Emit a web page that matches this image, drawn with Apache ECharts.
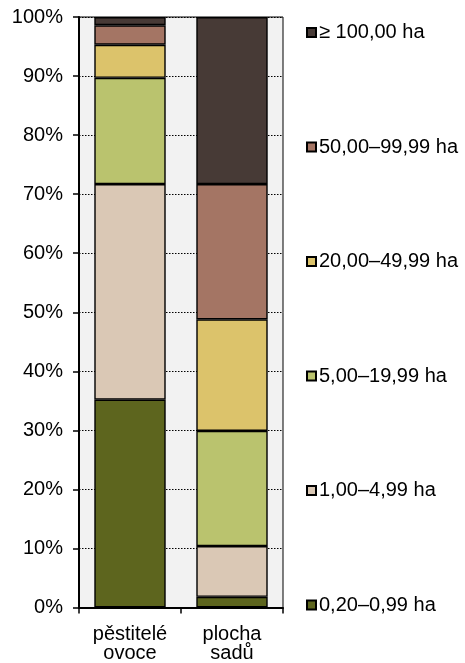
<!DOCTYPE html>
<html>
<head>
<meta charset="utf-8">
<script src="https://cdn.jsdelivr.net/npm/echarts@6/dist/echarts.min.js"></script>
<style>
html,body{margin:0;padding:0;background:#fff;}
#c{width:465px;height:663px;}
</style>
</head>
<body>
<div id="c"></div>
<script>
// Data
const categories = ['pěstitelé\novoce', 'plocha\nsadů'];
const sizeClasses = ['0,20–0,99 ha', '1,00–4,99 ha', '5,00–19,99 ha', '20,00–49,99 ha', '50,00–99,99 ha', '≥ 100,00 ha'];
const growersShare = [35.2, 36.5, 18.0, 5.6, 3.3, 1.4];   // pěstitelé ovoce (%)
const orchardShare = [1.8, 8.6, 19.5, 18.9, 22.9, 28.3];  // plocha sadů (%)
const yTicks = [0, 10, 20, 30, 40, 50, 60, 70, 80, 90, 100];

// Styles
const colors = ['#5d651e', '#dac8b5', '#bac36e', '#dcc36b', '#a47564', '#473a36'];
const FONT = "'Liberation Sans', Arial, sans-serif";
const legendCenters = [600, 485.5, 371, 256.5, 142, 27.5];

const chart = echarts.init(document.getElementById('c'), null, {renderer: 'canvas'});

const series = sizeClasses.map((name, i) => ({
  name: name,
  type: 'bar',
  stack: 'total',
  barWidth: '70%',
  data: [growersShare[i], orchardShare[i]],
  itemStyle: { color: colors[i], borderColor: '#000', borderWidth: 1.4 },
  emphasis: { disabled: true }
}));

const legends = sizeClasses.map((name, i) => ({
  data: [name],
  left: 301,
  top: legendCenters[i] - 11,
  orient: 'vertical',
  itemWidth: 9,
  itemHeight: 9,
  icon: 'rect',
  selectedMode: false,
  textStyle: { fontFamily: FONT, fontSize: 20, color: '#000', lineHeight: 22, padding: [0, 0, 0, -2] }
}));

chart.setOption({
  animation: false,
  backgroundColor: '#fff',
  grid: {
    left: 79, right: 182, top: 17, bottom: 54,
    show: true, backgroundColor: '#f2f2f2', borderColor: '#000', borderWidth: 1
  },
  legend: legends,
  xAxis: {
    type: 'category',
    data: categories,
    axisLine: { lineStyle: { color: '#000', width: 2 } },
    axisTick: { show: true, length: 6, lineStyle: { color: '#000', width: 1.5 } },
    axisLabel: { fontFamily: FONT, fontSize: 20, color: '#000', lineHeight: 19, margin: 17 }
  },
  yAxis: {
    type: 'value',
    min: yTicks[0],
    max: yTicks[yTicks.length - 1],
    interval: 10,
    axisLine: { show: true, lineStyle: { color: '#000', width: 2 } },
    axisTick: { show: true, length: 6, lineStyle: { color: '#000', width: 1.5 } },
    axisLabel: { fontFamily: FONT, fontSize: 20, color: '#000', margin: 16, formatter: '{value}%' },
    splitLine: { show: true, lineStyle: { color: '#000', width: 1.2, type: [1.5, 1.5] } }
  },
  series: series
});
</script>
</body>
</html>
